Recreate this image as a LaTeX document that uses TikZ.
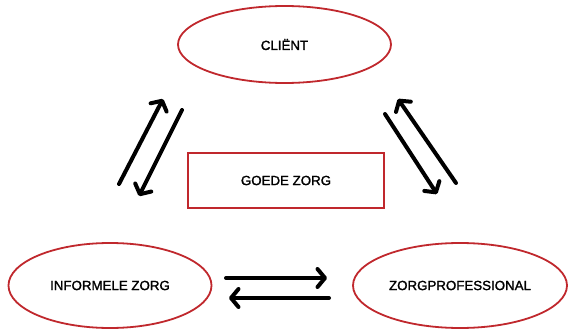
\documentclass[tikz,border=0pt]{standalone}
\usepackage{fontspec}
\setmainfont{Liberation Sans}
\newfontfamily\medsans{Liberation Sans}[FakeBold=1.6]
\usetikzlibrary{shapes.geometric,arrows.meta}
\definecolor{rimred}{HTML}{C0282D}
\begin{document}
\begin{tikzpicture}[x=1pt,y=-1pt,
  oval/.style={ellipse,draw=rimred,line width=1.8pt,inner sep=0pt,font=\medsans\fontsize{13.3}{15}\selectfont},
  goal/.style={rectangle,draw=rimred,line width=1.8pt,inner sep=0pt,font=\medsans\fontsize{13.3}{15}\selectfont},
  flow/.style={line width=4pt,line cap=round,-{Straight Barb[length=7.5pt,width=18pt,line cap=round,line join=round]}}]
\useasboundingbox (0,0) rectangle (568,329);
\node[oval,minimum width=213pt,minimum height=77pt] (client) at (284.5,44.5) {CLIËNT};
\node[oval,minimum width=203pt,minimum height=85pt] (inf) at (110,285.5) {INFORMELE ZORG};
\node[oval,minimum width=214pt,minimum height=85pt] (prof) at (460,285.5) {ZORGPROFESSIONAL};
\node[goal,minimum width=196pt,minimum height=55pt] (goed) at (286,180.5) {GOEDE ZORG};
% left pair
\coordinate (l1a) at (119,184); \coordinate (l1b) at (163,99);
\coordinate (l2a) at (182,110); \coordinate (l2b) at (139,196);
% right pair
\coordinate (r1a) at (385,114); \coordinate (r1b) at (437,194);
\coordinate (r2a) at (456,183); \coordinate (r2b) at (398,99);
% bottom pair
\coordinate (h1a) at (226,278); \coordinate (h1b) at (327,278);
\coordinate (h2a) at (329,298); \coordinate (h2b) at (229,298);
\draw[flow] (l1a) -- (l1b);
\draw[flow] (l2a) -- (l2b);
\draw[flow] (r1a) -- (r1b);
\draw[flow] (r2a) -- (r2b);
\draw[flow] (h1a) -- (h1b);
\draw[flow] (h2a) -- (h2b);
\end{tikzpicture}
\end{document}
